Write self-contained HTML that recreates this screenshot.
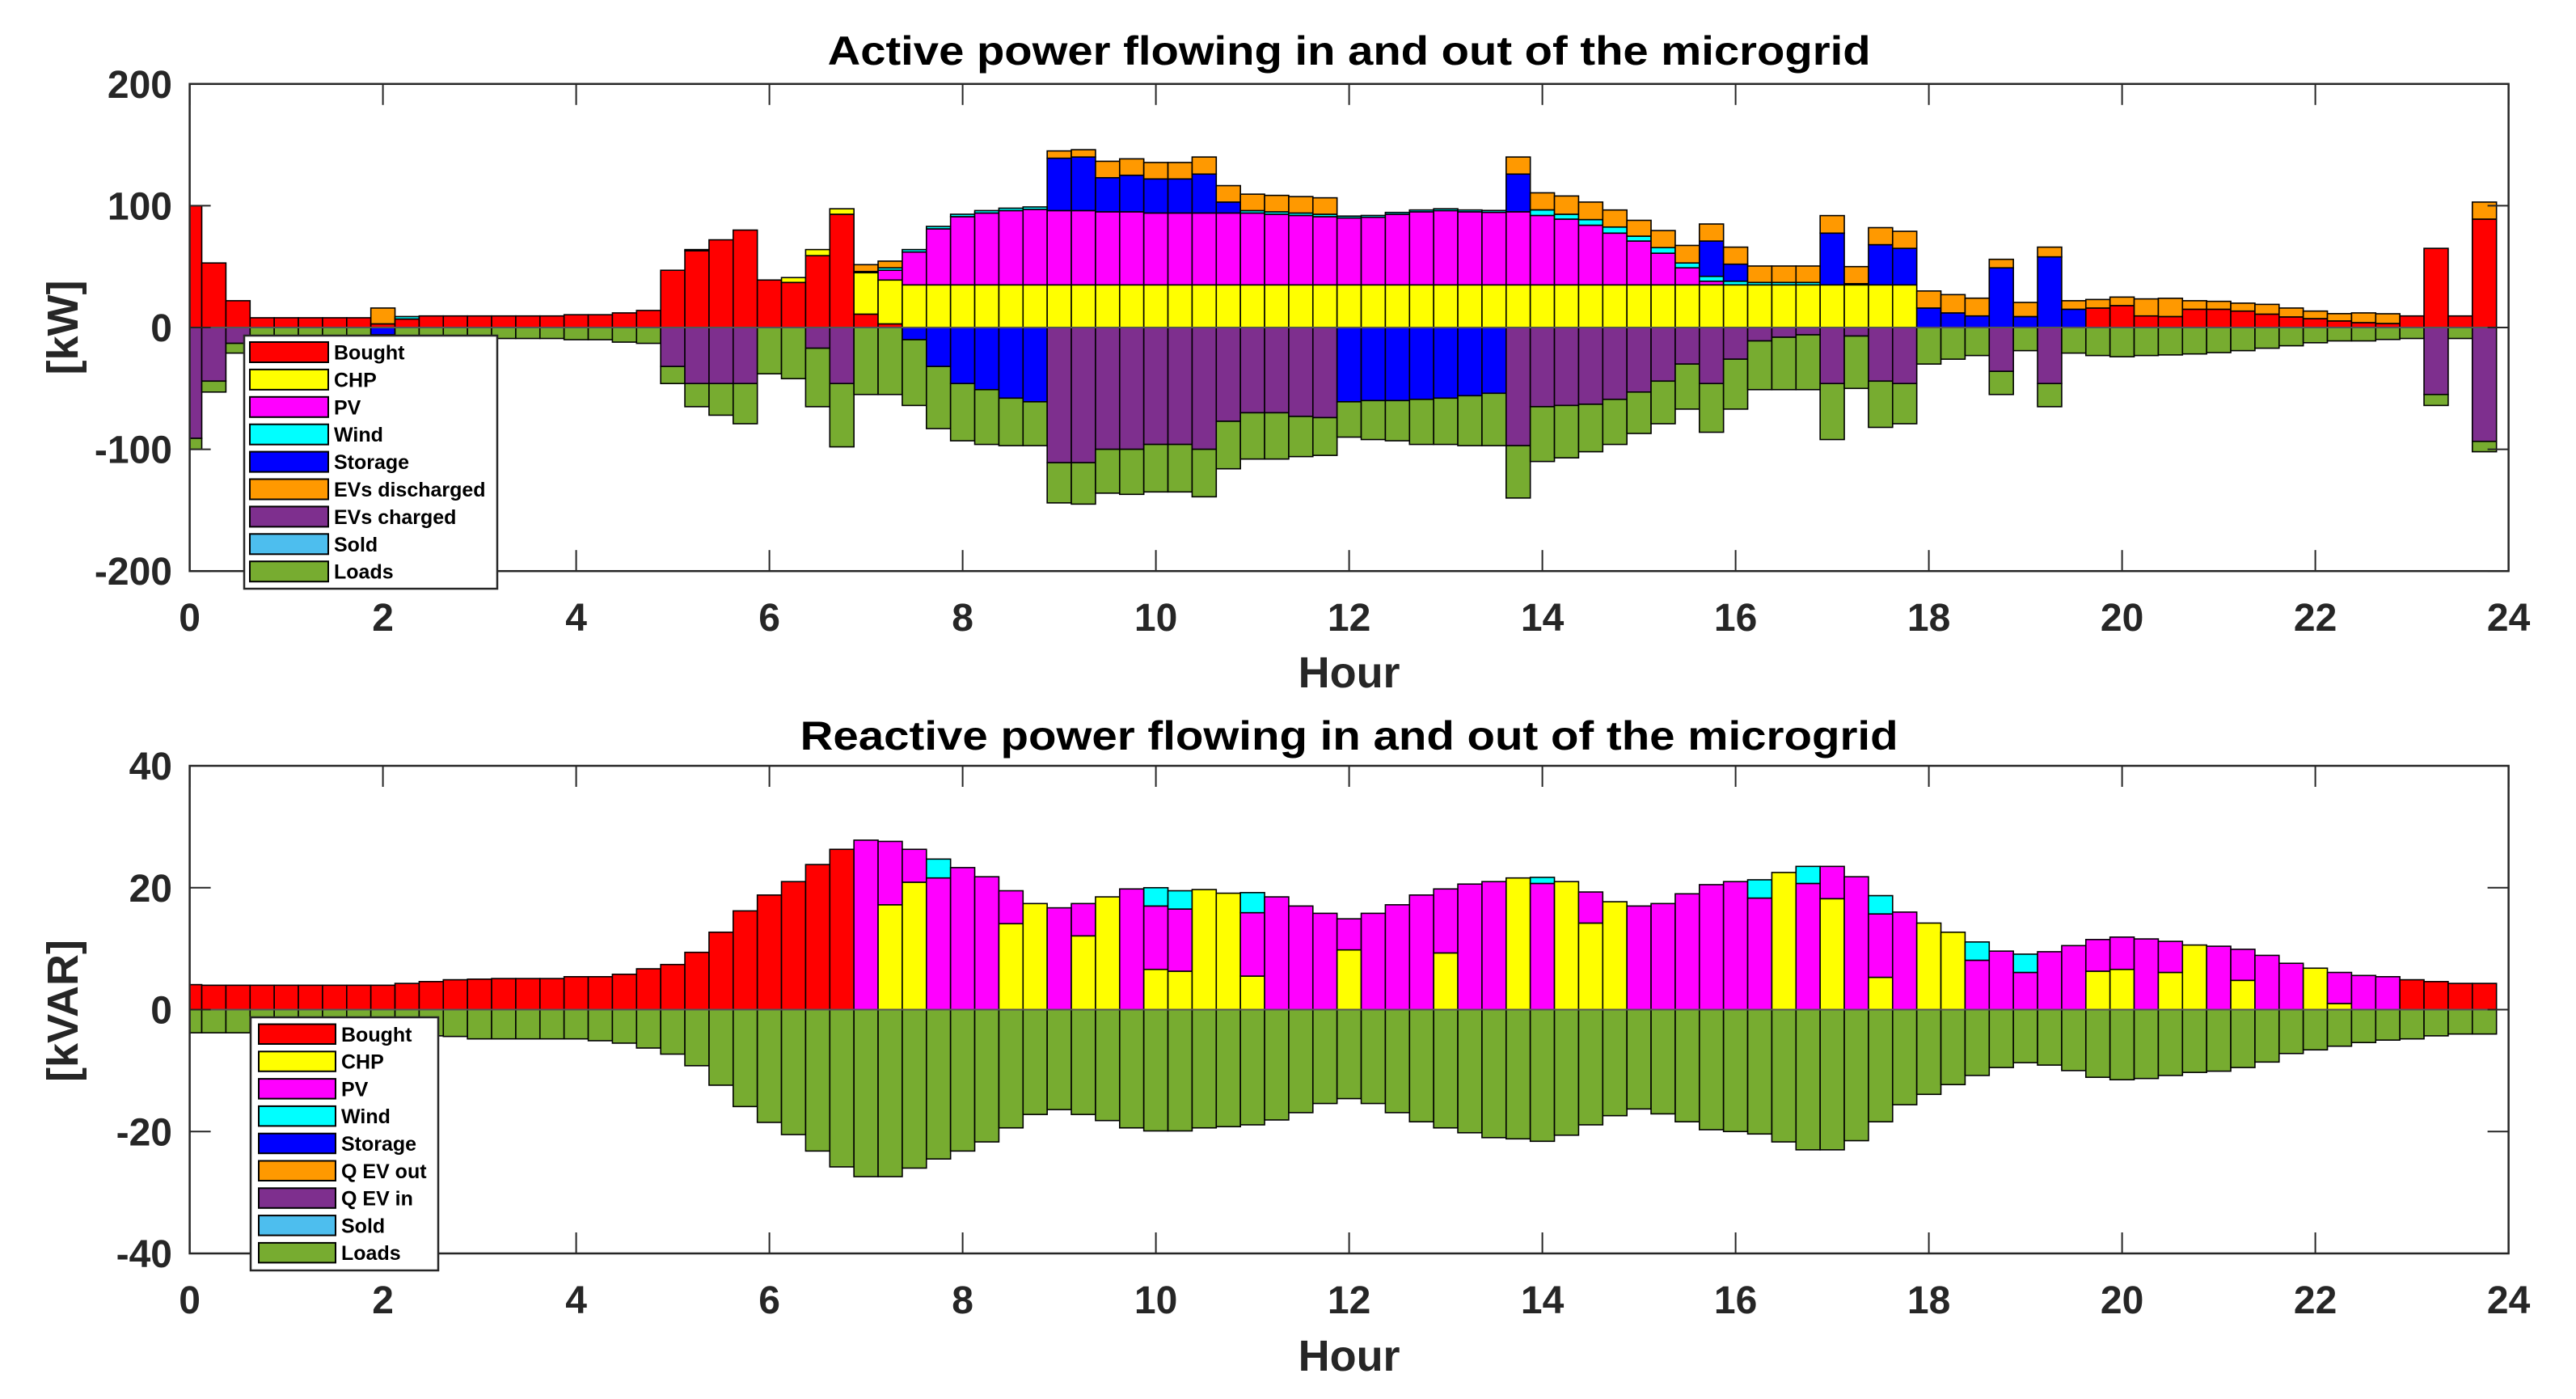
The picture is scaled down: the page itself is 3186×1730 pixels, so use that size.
<!DOCTYPE html>
<html><head><meta charset="utf-8"><style>
html,body{margin:0;padding:0;background:#fff;}
svg{display:block;font-family:"Liberation Sans",Arial,sans-serif;font-weight:bold;}
</style></head><body>
<svg id="chart" width="3186" height="1730" viewBox="0 0 3186 1730" xmlns="http://www.w3.org/2000/svg">
<defs>
<clipPath id="clipTop"><rect x="234.6" y="103.8" width="2868" height="602.4"/></clipPath>
<clipPath id="clipBot"><rect x="234.6" y="947" width="2868" height="603"/></clipPath>
</defs>
<rect x="0" y="0" width="3186" height="1730" fill="#fff"/>
<g id="topBars" clip-path="url(#clipTop)"></g>
<g id="botBars" clip-path="url(#clipBot)"></g>
<g id="axes"></g>
</svg>
<script>
// ---------- Active power data (kW), 96 quarter-hour intervals ----------
const hours = Array.from({length:96},(_, k)=>k*0.25);
const boughtP = [100,53,22,8,8,8,8,8,3,7,9.5,9.5,9.5,9.5,9.5,9.5,10.5,10.5,12,14,47,63,72,80,39,37,59,93,11,3,
0,0,0,0,0,0,0,0,0,0,0,0,0,0,0,0,0,0,0,0,0,0,0,0,0,0,0,0,0,0,0,0,0,0,0,0,0,0,0,0,0,0,0,0,0,0,0,0,0,
16,18,9.5,9,15,15,13.5,11,8.7,7.3,5.4,4,3.3,9.5,65,9.5,89];
const chpP = [0,0,0,0,0,0,0,0,0,0,0,0,0,0,0,0,0,0,0,0,0,0,0,0,0,4,5,4.5,34,36,
35,35,35,35,35,35,35,35,35,35,35,35,35,35,35,35,35,35,35,35,35,35,35,35,35,35,35,35,35,35,35,35,35,35,35,35,35,35,35,35,35,35,
0,0,0,0,0,0,0,0,0,0,0,0,0,0,0,0,0,0,0,0,0,0,0,0];
const pvP = [0,0,0,0,0,0,0,0,0,0,0,0,0,0,0,0,0,0,0,0,0,0,0,0,0,0,0,0,0,8,
27,46,56,59,61,62,61,61,60,60,59,59,59,59,59,58,57,56,55,55.5,58,60,61,60,59.6,60,57,54,49,42.5,36,26,14,3,
0,0,0,0,0,0,0,0,0,0,0,0,0,0,0,0,0,0,0,0,0,0,0,0,0,0,0,0,0,0,0,0];
const windP = [0,0,0,0,0,0,0,0,0,2,0,0,0,0,0,0,0,0,0,0,0,1,0,0,0,0,0,0,0,2,
2,2,2,2,2,2,0,0,0,0,0,0,0,0,2,2,2,2,1.5,1.5,1.5,1.5,1.5,1.5,1.5,0,4.6,4,4.6,5,4,4.6,4,4,3,2,2,2,
0,0,0,0,0,0,0,0,0,0,0,0,0,0,0,0,0,0,0,0,0,0,0,0,0,0,0,0];
const storageP = [0,0,0,0,0,0,0,0,-6,0,0,0,0,0,0,0,0,0,0,0,0,0,0,0,0,0,0,0,1,0,
-10,-32,-46,-51,-58,-61,43,44,28,30,28,28,32,9,0,0,0,0,-61,-60,-60,-59,-58,-56,-54,31,0,0,0,0,0,0,0,29,14,0,0,0,42.5,1,33,30,
16,12,9.5,49,9,58,15,0,0,0,0,0,0,0,0,0,0,0,0,0,0,0,0,0];
const evDisP = [0,0,0,0,0,0,0,0,13,0,0,0,0,0,0,0,0,0,0,0,0,0,0,0,0,0,0,0,5.6,5.5,
0,0,0,0,0,0,6,6,13.5,13.5,13.5,13.5,14,13.5,13.5,13.5,13.5,13.5,0,0,0,0,0,0,0,14,14,15,14.4,14,13,14,14.4,14,14,13.5,13.5,13.5,14.4,14,14,14,
14,15,14.6,7,11.6,8,7,7,7,14,15,7,6.5,6.5,8,7.3,6.2,6,8,8,0,0,0,14];
const evChP = [91,44,13,0,0,0,0,0,0,0,0,0,0,0,0,0,0,0,0,0,32,46,46,46,0,0,17,46,0,0,
0,0,0,0,0,0,111,111,100,100,96,96,100,77,70,70,73,74,0,0,0,0,0,0,0,97,65,64,63,59,53,44,30,46,26,11,8,6,46,7,44,46,
0,0,0,36,0,46,0,0,0,0,0,0,0,0,0,0,0,0,0,0,0,55,0,93.5];
const loadsP = [9,9,8,8,8,8,8,8,3,8,9,9,9,9,9,9,10,10,12,13,14,19,26,33,38,42,48,52,55,55,
54,51,47,45,39,36,33,34,36,37,39,39,39,39,38,38,33,31,29,32,33,37,38,41,43,43,45,43,39,37,34,35,37,40,41,40,43,45,46,43,38,33,
30,26,23,19,19,19,21,23,24,23,22.5,21.7,20.6,19,17,15,12.5,11,11,9.8,9,9,9,8.5];
const soldP = new Array(96).fill(0);

// ---------- Reactive power data (kVAR) ----------
const boughtQ = [4.1,4,4,4,4,4,4,4,4,4.3,4.6,4.9,5,5.1,5.1,5.1,5.4,5.4,5.8,6.7,7.4,9.4,12.7,16.2,18.8,21,23.8,26.3,
0,0,0,0,0,0,0,0, 0,0,0,0,0,0,0,0, 0,0,0,0,0,0,0,0, 0,0,0,0,0,0,0,0,
0,0,0,0,0,0,0,0, 0,0,0,0,0,0,0,0, 0,0,0,0,0,0,0,0, 0,0,0,0,0,0,0,0,
4.9,4.6,4.3,4.3];
const chpQ = [0,0,0,0,0,0,0,0,0,0,0,0,0,0,0,0,0,0,0,0,0,0,0,0,0,0,0,0,
0,17.2,20.9,0,0,0,14.1,17.4,0,12.1,18.5,0,6.6,6.3,19.7,19.1,5.5,0,0,0,9.8,0,0,0,9.3,0,0,21.6,0,21,14.2,17.7,
0,0,0,0,0,0,22.5,0,18.2,0,5.3,0,14.2,12.7,0,0,0,0,0,6.3,6.6,0,6.1,10.6,0,4.8,0,0,6.8,1,0,0,0,0,0,0];
const pvQ = [0,0,0,0,0,0,0,0,0,0,0,0,0,0,0,0,0,0,0,0,0,0,0,0,0,0,0,0,
27.8,10.4,5.4,21.6,23.3,21.8,5.4,0,16.7,5.3,0,19.8,10.4,10.2,0,0,10.4,18.5,17,15.8,5.1,15.8,17.2,18.8,10.5,20.6,21,0,20.7,0,5.1,0,
17,17.4,19,20.5,21,18.3,0,20.7,5.3,21.8,10.4,16,0,0,8.1,9.6,6.1,9.5,10.5,5.2,5.3,11.6,5.1,0,10.4,5.1,8.9,7.6,0,5.1,5.6,5.4,0,0,0,0];
const windQ = [0,0,0,0,0,0,0,0,0,0,0,0,0,0,0,0,0,0,0,0,0,0,0,0,0,0,0,0,
0,0,0,3.1,0,0,0,0,0,0,0,0,3,3,0,0,3.3,0,0,0,0,0,0,0,0,0,0,0,1,0,0,0,
0,0,0,0,0,3,0,2.8,0,0,3,0,0,0,3,0,3,0,0,0,0,0,0,0,0,0,0,0,0,0,0,0,0,0,0,0];
const loadsQ = [3.8,3.8,3.8,3.8,3.8,3.8,3.8,3.8,3.8,4,4.3,4.4,4.8,4.8,4.8,4.8,4.8,5.1,5.5,6.3,7.3,9.2,12.4,15.9,18.5,20.5,23.2,25.8,
27.4,27.4,26,24.5,23.2,21.7,19.4,17.2,16.4,17.2,18.2,19.4,19.9,19.9,19.4,19.2,18.9,18.1,16.9,15.4,14.6,
15.4,16.9,18.4,19.4,20.2,21,21.2,21.6,20.6,18.9,17.4,16.3,17.1,18.4,19.7,20,20.4,21.7,23,23,21.5,18.4,15.6,13.9,12.3,10.8,9.5,8.7,9.1,10,
11.1,11.5,11.3,10.8,10.3,10.1,9.5,8.6,7.2,6.6,6,5.4,5,4.8,4.3,4,4];

const xTicks = [0,2,4,6,8,10,12,14,16,18,20,22,24];
const yTicksTop = [200,100,0,-100,-200];
const yTicksBot = [40,20,0,-20,-40];
const legendTop = ["Bought","CHP","PV","Wind","Storage","EVs discharged","EVs charged","Sold","Loads"];
const legendBot = ["Bought","CHP","PV","Wind","Storage","Q EV out","Q EV in","Sold","Loads"];

const COLORS = ["#ff0000","#ffff00","#ff00ff","#00ffff","#0000ff","#ff9900","#7e2f8e","#4dbeee","#77ac30"];
const NS = "http://www.w3.org/2000/svg";
const X0 = 234.6, X1 = 3102.6;
function xs(h){ return X0 + (X1 - X0) * h / 24; }
const TOP = {y0:103.8, y1:706.2, vmin:-200, vmax:200};
const BOT = {y0:947, y1:1550, vmin:-40, vmax:40};
function ys(ax, v){ return ax.y1 - (v - ax.vmin) / (ax.vmax - ax.vmin) * (ax.y1 - ax.y0); }

function mk(tag, attrs, parent){
  const e = document.createElementNS(NS, tag);
  for (const k in attrs) e.setAttribute(k, attrs[k]);
  parent.appendChild(e);
  return e;
}

function drawStack(g, ax, series, names, prefix){
  const bw = (xs(0.25) - xs(0));
  for (let k = 0; k < hours.length; k++){
    let pos = 0, neg = 0;
    for (let s = 0; s < series.length; s++){
      const v = series[s][k];
      if (!v) continue;
      let a, b;
      if (v > 0){ a = pos; b = pos + v; pos = b; } else { a = neg; b = neg + v; neg = b; }
      const yA = ys(ax, a), yB = ys(ax, b);
      const r = mk('rect', {x: xs(hours[k]) - bw/2, y: Math.min(yA,yB), width: bw, height: Math.abs(yA-yB),
        fill: COLORS[names[s]], stroke: '#000', 'stroke-width': 1.6}, g);
      
      
    }
  }
}

const neg = a => a.map(v => -v);
drawStack(document.getElementById('topBars'), TOP,
  [boughtP, chpP, pvP, windP, storageP, evDisP, neg(evChP), neg(soldP), neg(loadsP)],
  [0,1,2,3,4,5,6,7,8], 'active');
drawStack(document.getElementById('botBars'), BOT,
  [boughtQ, chpQ, pvQ, windQ, neg(loadsQ)],
  [0,1,2,3,8], 'reactive');

const axes = document.getElementById('axes');
function drawAxes(ax, yTicks, title, titleW, ylabel, titleY, ylabelY, hourY, tickLabelY, pfx){
  const zl = mk('line', {x1:X0, x2:X1, y1:ys(ax,0), y2:ys(ax,0), stroke:'#555', 'stroke-width':2}, axes);
  
  
  const box = mk('rect', {x:X0, y:ax.y0, width:X1-X0, height:ax.y1-ax.y0, fill:'none', stroke:'#262626', 'stroke-width':2.5}, axes);
  
  
  xTicks.forEach(t => {
    const x = xs(t);
    mk('line', {x1:x, x2:x, y1:ax.y1, y2:ax.y1-26, stroke:'#262626', 'stroke-width':2}, axes);
    mk('line', {x1:x, x2:x, y1:ax.y0, y2:ax.y0+26, stroke:'#262626', 'stroke-width':2}, axes);
    const tx = mk('text', {x:x, y:tickLabelY, 'text-anchor':'middle', 'font-size':48, fill:'#262626'}, axes);
    tx.textContent = t;
    
    
  });
  yTicks.forEach(t => {
    const y = ys(ax, t);
    mk('line', {x1:X0, x2:X0+26, y1:y, y2:y, stroke:'#262626', 'stroke-width':2}, axes);
    mk('line', {x1:X1, x2:X1-26, y1:y, y2:y, stroke:'#262626', 'stroke-width':2}, axes);
    const ty = mk('text', {x:213, y:y+17, 'text-anchor':'end', 'font-size':48, fill:'#262626'}, axes);
    ty.textContent = t;
    
    
  });
  const tt = mk('text', {x:(X0+X1)/2, y:titleY, 'text-anchor':'middle', 'font-size':50, fill:'#000',
    textLength:titleW, lengthAdjust:'spacingAndGlyphs'}, axes);
  tt.textContent = title;
  
  
  const yl = mk('text', {x:0, y:0, 'text-anchor':'middle', 'font-size':54, fill:'#262626',
    transform:'translate(96,' + ylabelY + ') rotate(-90)'}, axes);
  yl.textContent = ylabel;
  
  
  const xl = mk('text', {x:(X0+X1)/2, y:hourY, 'text-anchor':'middle', 'font-size':54, fill:'#262626'}, axes);
  xl.textContent = 'Hour';
  
  
}
drawAxes(TOP, yTicksTop, 'Active power flowing in and out of the microgrid', 1290, '[kW]', 80, 405, 850, 780, 'active');
drawAxes(BOT, yTicksBot, 'Reactive power flowing in and out of the microgrid', 1358, '[kVAR]', 927, 1250, 1695, 1624, 'reactive');

function drawLegend(bx, by, bw, bh, sx, sw, sy0, sh, step, tx, labels, pfx){
  const g = mk('g', {}, axes);
  
  
  mk('rect', {x:bx, y:by, width:bw, height:bh, fill:'#fff', stroke:'#262626', 'stroke-width':2.5}, g);
  labels.forEach((lab, i) => {
    const y = sy0 + i*step;
    const sw_ = mk('rect', {x:sx, y:y, width:sw, height:sh, fill:COLORS[i], stroke:'#000', 'stroke-width':2}, g);
    
    
    const t = mk('text', {x:tx, y:y+sh/2+9, 'font-size':25, fill:'#000'}, g);
    t.textContent = lab;
    
    
  });
}
drawLegend(302, 415, 313, 313, 309, 97, 423, 25, 33.9, 413, legendTop, 'active');
drawLegend(310, 1258, 232, 313, 320, 95, 1266.5, 24.5, 33.8, 422, legendBot, 'reactive');
</script>
</body></html>
